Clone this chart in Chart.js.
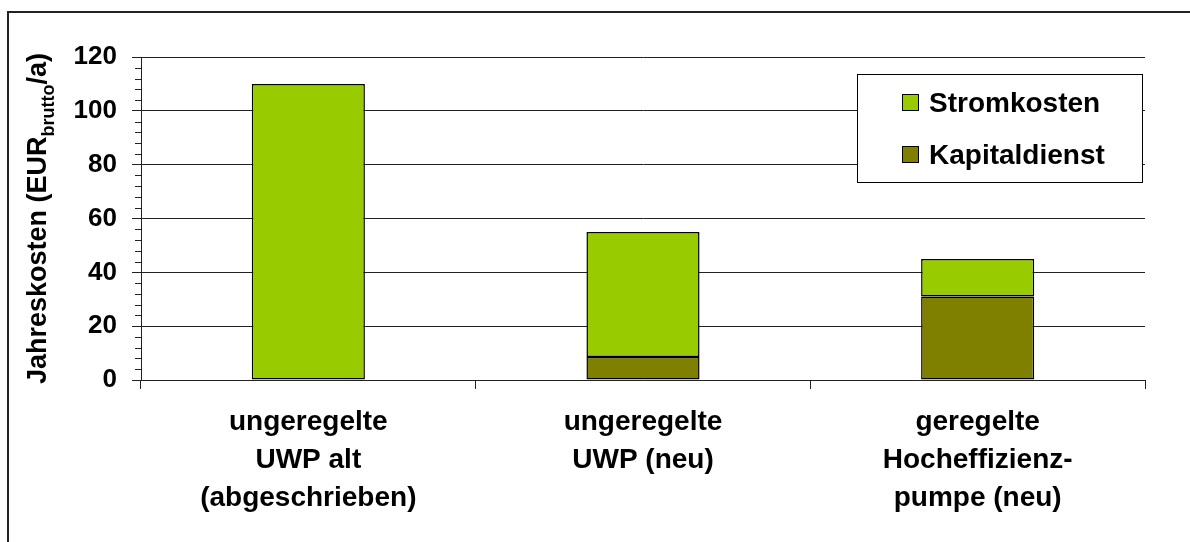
<!DOCTYPE html>
<html>
<head>
<meta charset="utf-8">
<script src="https://cdn.jsdelivr.net/npm/chart.js@4/dist/chart.umd.min.js"></script>
<style>
  html, body { margin: 0; padding: 0; background: #fff; }
  #wrap { width: 1190px; height: 542px; position: relative; }
</style>
</head>
<body>
<div id="wrap"><canvas id="c" width="1190" height="542"></canvas></div>
<script>
// Categories (multi-line labels), cost components per pump type (EUR brutto per year)
const categories = [
  ["ungeregelte", "UWP alt", "(abgeschrieben)"],
  ["ungeregelte", "UWP (neu)"],
  ["geregelte", "Hocheffizienz-", "pumpe (neu)"]
];
const kapitaldienst = [0, 8.5, 31];
const stromkosten = [110, 46.5, 14];
const yTickValues = [0, 20, 40, 60, 80, 100, 120];

const FONT = "'Liberation Sans', Arial, sans-serif";
const INK = '#000000';

// Outer frame (left and top edges)
const framePlugin = {
  id: 'frame',
  beforeDraw(chart) {
    const ctx = chart.ctx;
    ctx.save();
    ctx.strokeStyle = '#222';
    ctx.lineWidth = 2;
    ctx.beginPath();
    ctx.moveTo(8, 542);
    ctx.lineTo(8, 12);
    ctx.lineTo(1190, 12);
    ctx.stroke();
    ctx.restore();
  }
};

// Minor tick marks on the value axis every 4 units
const minorTicksPlugin = {
  id: 'minorTicks',
  afterDraw(chart) {
    const y = chart.scales.y;
    const ctx = chart.ctx;
    ctx.save();
    ctx.strokeStyle = '#222';
    ctx.lineWidth = 1;
    ctx.beginPath();
    for (let v = 0; v <= y.max; v += 4) {
      if (v % 20 === 0) continue;
      const py = Math.round(y.getPixelForValue(v)) + 0.5;
      ctx.moveTo(y.right - 6, py);
      ctx.lineTo(y.right, py);
    }
    ctx.stroke();
    ctx.restore();
  }
};

// Axis title with subscript
const yTitlePlugin = {
  id: 'yTitle',
  afterDraw(chart) {
    const area = chart.chartArea;
    const ctx = chart.ctx;
    const cy = (area.top + area.bottom) / 2;
    const mainFont = 'bold 27px ' + FONT;
    const subFont = 'bold 18px ' + FONT;
    const parts = [
      { t: 'Jahreskosten (EUR', f: mainFont, dy: 0 },
      { t: 'brutto', f: subFont, dy: 8 },
      { t: '/a)', f: mainFont, dy: 0 }
    ];
    ctx.save();
    ctx.fillStyle = INK;
    ctx.textBaseline = 'alphabetic';
    ctx.textAlign = 'left';
    let total = 0;
    parts.forEach(p => { ctx.font = p.f; p.w = ctx.measureText(p.t).width; total += p.w; });
    ctx.translate(46, cy);
    ctx.rotate(-Math.PI / 2);
    let x = -total / 2;
    parts.forEach(p => { ctx.font = p.f; ctx.fillText(p.t, x, p.dy); x += p.w; });
    ctx.restore();
  }
};

// Boxed legend inside the plot, top series first
const boxLegendPlugin = {
  id: 'boxLegend',
  afterDraw(chart) {
    const ctx = chart.ctx;
    const box = { x: 857, y: 74, w: 285, h: 108 };
    ctx.save();
    ctx.fillStyle = '#fff';
    ctx.fillRect(box.x, box.y, box.w, box.h);
    ctx.strokeStyle = INK;
    ctx.lineWidth = 1;
    ctx.strokeRect(box.x + 0.5, box.y + 0.5, box.w, box.h);
    const items = chart.data.datasets.slice().reverse();
    ctx.font = 'bold 28px ' + FONT;
    ctx.textBaseline = 'alphabetic';
    ctx.textAlign = 'left';
    items.forEach((ds, i) => {
      const sy = 94 + i * 52;
      ctx.fillStyle = ds.backgroundColor;
      ctx.fillRect(902, sy, 17, 17);
      ctx.strokeStyle = INK;
      ctx.strokeRect(902.5, sy + 0.5, 16, 16);
      ctx.fillStyle = INK;
      ctx.fillText(ds.label, 929, sy + 18);
    });
    ctx.restore();
  }
};

new Chart(document.getElementById('c'), {
  type: 'bar',
  data: {
    labels: categories,
    datasets: [
      {
        label: 'Kapitaldienst',
        data: kapitaldienst,
        backgroundColor: '#808000',
        borderColor: INK,
        borderWidth: 1.5,
        borderSkipped: false
      },
      {
        label: 'Stromkosten',
        data: stromkosten,
        backgroundColor: '#99CC00',
        borderColor: INK,
        borderWidth: 1.5,
        borderSkipped: false
      }
    ]
  },
  options: {
    responsive: false,
    animation: false,
    devicePixelRatio: 1,
    layout: { padding: { top: 57, right: 45, left: 0, bottom: 0 } },
    datasets: { bar: { categoryPercentage: 1, barPercentage: 0.338 } },
    plugins: {
      legend: { display: false },
      tooltip: { enabled: false },
      title: { display: false }
    },
    scales: {
      x: {
        stacked: true,
        afterFit(s) { s.height = 162; },
        grid: {
          offset: true,
          drawOnChartArea: false,
          color: '#222',
          tickLength: 9,
          lineWidth: 1
        },
        border: { display: true, color: '#222', width: 1 },
        ticks: {
          color: INK,
          font: { family: FONT, size: 28, weight: 'bold', lineHeight: 1.34 },
          padding: 15,
          maxRotation: 0,
          minRotation: 0,
          autoSkip: false
        }
      },
      y: {
        stacked: true,
        min: 0,
        max: 120,
        afterFit(s) { s.width = 141; },
        afterBuildTicks(s) { s.ticks = yTickValues.map(v => ({ value: v })); },
        grid: {
          color: '#222',
          lineWidth: 1,
          tickLength: 9
        },
        border: { display: true, color: '#222', width: 1 },
        ticks: {
          color: INK,
          font: { family: FONT, size: 26, weight: 'bold' },
          padding: 15
        }
      }
    }
  },
  plugins: [framePlugin, minorTicksPlugin, yTitlePlugin, boxLegendPlugin]
});
</script>
</body>
</html>
